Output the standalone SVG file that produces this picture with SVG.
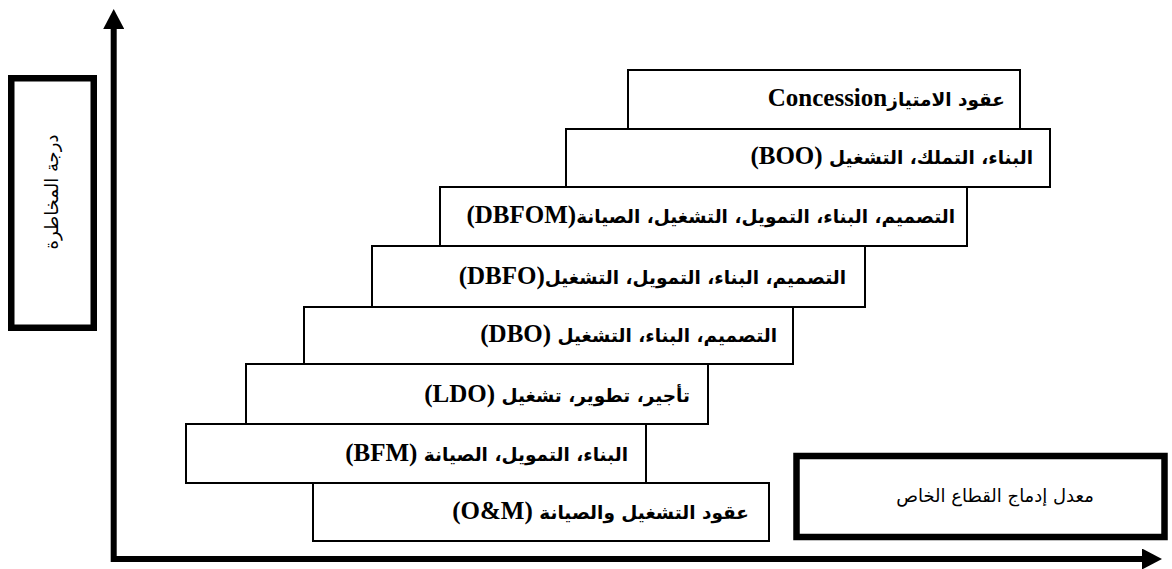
<svg xmlns="http://www.w3.org/2000/svg" width="1172" height="569" viewBox="0 0 1172 569">
<style>
.step rect{fill:#fff;stroke:#000;stroke-width:2}
.ar{font-family:"DejaVu Sans",sans-serif;font-weight:bold;font-size:18.5px;fill:#000}
.lat{font-family:"Liberation Serif",serif;font-weight:bold;font-size:25px}
.lbl rect{fill:#fff;stroke:#000;stroke-width:6.5}
.lt{font-family:"DejaVu Sans",sans-serif;font-size:18px;fill:#000}
</style>
<defs>
<marker id="ah" viewBox="0 0 20 21" markerWidth="20" markerHeight="21" refX="2" refY="10.5" orient="auto-start-reverse" markerUnits="userSpaceOnUse">
<path d="M0,0 L20,10.5 L0,21 z" fill="#000"/>
</marker>
</defs>
<g id="connectors">
<path d="M113.7,27 V559 H1144" fill="none" stroke="#000" stroke-width="6" stroke-linejoin="miter" marker-start="url(#ah)" marker-end="url(#ah)"/>
</g>
<g id="label-risk" class="lbl">
<rect x="11.25" y="78.25" width="82.5" height="249.5"/>
<text class="lt" transform="translate(58,192) rotate(-90)" text-anchor="middle" direction="rtl">درجة المخاطرة</text>
</g>
<g id="label-private" class="lbl">
<rect x="796.5" y="456" width="368" height="81"/>
<text class="lt" x="995" y="502" text-anchor="middle" direction="rtl">معدل إدماج القطاع الخاص</text>
</g>
<g id="step-concession" class="step">
<rect x="628" y="70" width="392" height="59"/>
<text class="ar" x="1005" y="106" direction="rtl" text-anchor="start">عقود الامتياز<tspan class="lat">Concession</tspan></text>
</g>
<g id="step-boo" class="step">
<rect x="566" y="129" width="484" height="58"/>
<text class="ar" x="1033" y="164" direction="rtl" text-anchor="start">البناء، التملك، التشغيل <tspan class="lat">(BOO)</tspan></text>
</g>
<g id="step-dbfom" class="step">
<rect x="440" y="187" width="527" height="59"/>
<text class="ar" x="955" y="223" direction="rtl" text-anchor="start">التصميم، البناء، التمويل، التشغيل، الصيانة<tspan class="lat">(DBFOM)</tspan></text>
</g>
<g id="step-dbfo" class="step">
<rect x="372" y="246" width="493" height="61"/>
<text class="ar" x="846" y="284" direction="rtl" text-anchor="start">التصميم، البناء، التمويل، التشغيل<tspan class="lat">(DBFO)</tspan></text>
</g>
<g id="step-dbo" class="step">
<rect x="304" y="307" width="489" height="57"/>
<text class="ar" x="777" y="342" direction="rtl" text-anchor="start">التصميم، البناء، التشغيل <tspan class="lat">(DBO)</tspan></text>
</g>
<g id="step-ldo" class="step">
<rect x="246" y="364" width="462" height="60"/>
<text class="ar" x="690" y="402" direction="rtl" text-anchor="start">تأجير، تطوير، تشغيل <tspan class="lat">(LDO)</tspan></text>
</g>
<g id="step-bfm" class="step">
<rect x="186" y="424" width="460" height="59"/>
<text class="ar" x="628" y="461" direction="rtl" text-anchor="start">البناء، التمويل، الصيانة <tspan class="lat">(BFM)</tspan></text>
</g>
<g id="step-om" class="step">
<rect x="313" y="483" width="456" height="58"/>
<text class="ar" x="749" y="519" direction="rtl" text-anchor="start">عقود التشغيل والصيانة <tspan class="lat">(O&amp;M)</tspan></text>
</g>
</svg>
